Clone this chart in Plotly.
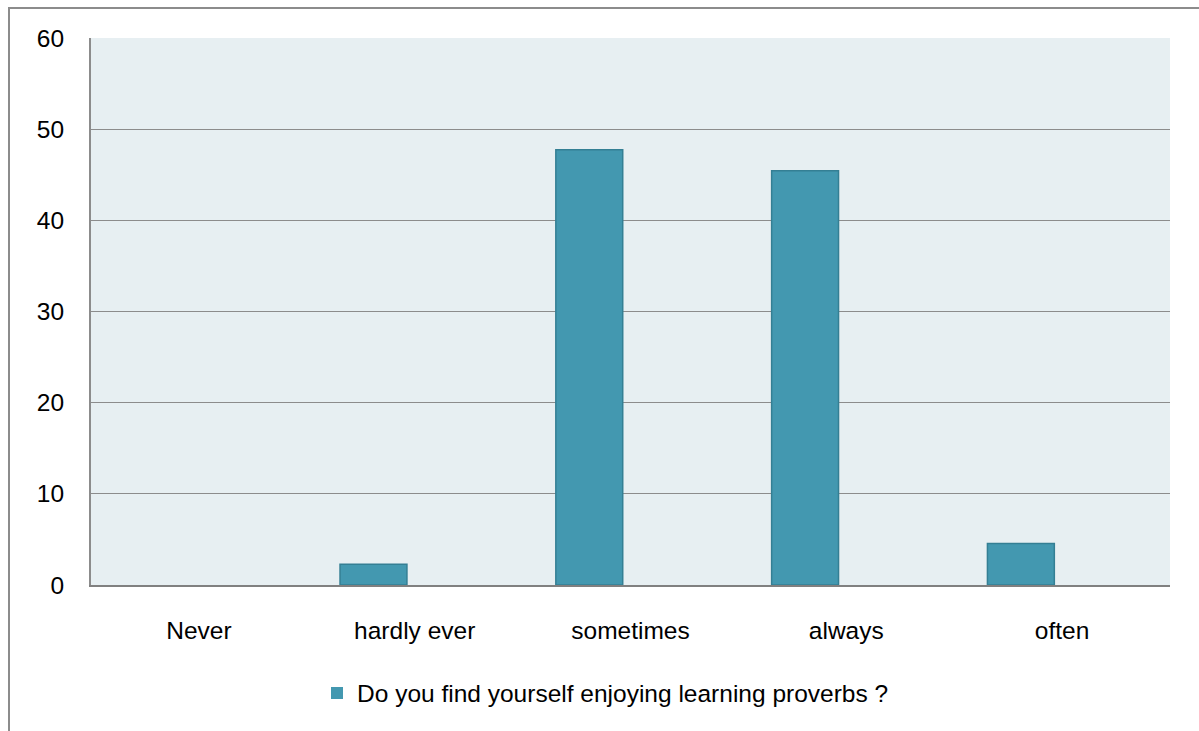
import plotly.graph_objects as go

categories = ["Never", "hardly ever", "sometimes", "always", "often"]
percentages = [0, 2.27, 47.73, 45.45, 4.55]
series_name = "Do you find yourself enjoying learning proverbs ?"
y_ticks = [0, 10, 20, 30, 40, 50, 60]

W, H = 1199, 731
L, R, T, B = 91, 29, 38, 146
pw, ph = W - L - R, H - T - B

FONT = "Liberation Sans, Arial, sans-serif"
FS = 24.5

fig = go.Figure()
fig.add_trace(go.Bar(
    x=categories,
    y=percentages,
    name=series_name,
    width=0.31,
    offset=-0.346,
    marker=dict(
        color="#4398B0",
        line=dict(color="#347F94", width=[0 if v == 0 else 1.5 for v in percentages]),
    ),
    showlegend=True,
))

# outer chart frame
fig.add_shape(
    type="rect", xref="paper", yref="paper",
    x0=(9 - L) / pw, x1=(W + 5 - L) / pw,
    y0=-(H + 5 - T - ph) / ph, y1=(ph + T - 8) / ph,
    line=dict(color="#8C8C8C", width=2), fillcolor="rgba(0,0,0,0)", layer="below",
)

fig.update_layout(
    width=W, height=H,
    margin=dict(l=L, r=R, t=T, b=B),
    paper_bgcolor="white",
    plot_bgcolor="#E7EFF2",
    font=dict(family=FONT, size=FS, color="#000000"),
    xaxis=dict(
        showgrid=False, showline=True, linecolor="#808080", linewidth=2,
        ticks="", ticklabelstandoff=23, tickfont=dict(size=FS),
    ),
    yaxis=dict(
        range=[0, 60], tickvals=y_ticks, showgrid=True, gridcolor="#8C8C8C", gridwidth=1,
        showline=True, linecolor="#8C8C8C", linewidth=2, zeroline=False,
        ticks="", ticklabelstandoff=20, tickfont=dict(size=FS),
    ),
    legend=dict(
        orientation="h", x=(317 - L) / pw, xanchor="left", y=-(693 - T - ph) / ph, yanchor="middle",
        font=dict(size=FS), itemwidth=30, bgcolor="rgba(0,0,0,0)",
    ),
)

fig.write_html("out.html")
